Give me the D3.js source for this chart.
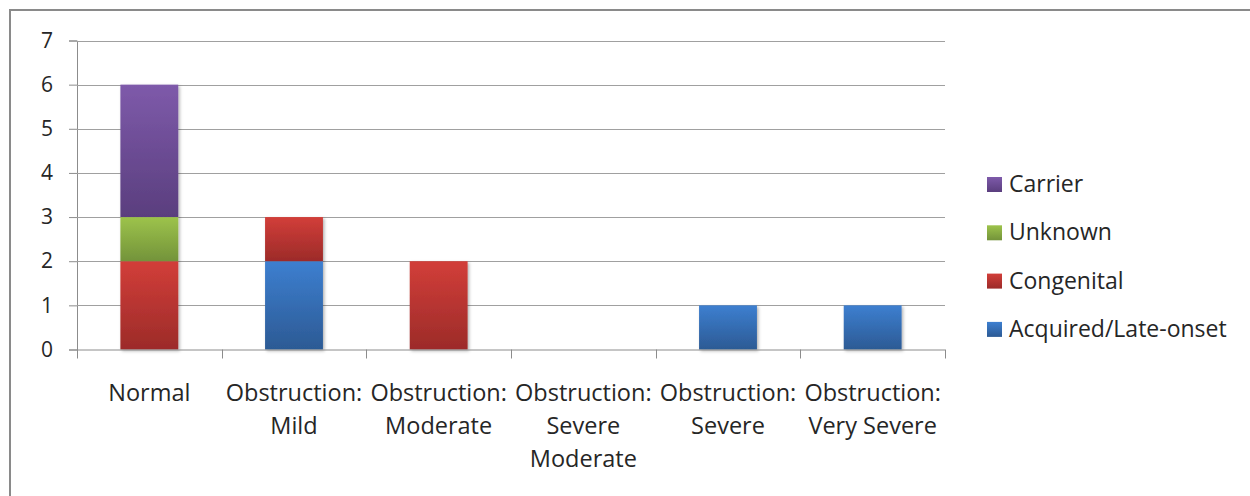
<!DOCTYPE html>
<html>
<head>
<meta charset="utf-8">
<script src="https://cdn.jsdelivr.net/npm/d3@7"></script>
<style>
  html, body { margin: 0; padding: 0; background: #fff; }
  svg { display: block; }
  text { font-family: "Open Sans", Lato, sans-serif; fill: #262626; }
</style>
</head>
<body>
<svg id="chart" width="1250" height="496"></svg>
<script>
// Categories along the x axis and their wrapped label lines
const categories = ["Normal", "Obstruction: Mild", "Obstruction: Moderate",
  "Obstruction: Severe Moderate", "Obstruction: Severe", "Obstruction: Very Severe"];
const categoryLines = [
  ["Normal"],
  ["Obstruction:", "Mild"],
  ["Obstruction:", "Moderate"],
  ["Obstruction:", "Severe", "Moderate"],
  ["Obstruction:", "Severe"],
  ["Obstruction:", "Very Severe"]
];

// Stacked series, bottom to top
const seriesNames = ["Acquired/Late-onset", "Congenital", "Unknown", "Carrier"];
const acquired   = [0, 2, 0, 0, 1, 1];
const congenital = [2, 1, 2, 0, 0, 0];
const unknown    = [1, 0, 0, 0, 0, 0];
const carrier    = [3, 0, 0, 0, 0, 0];
const yTicks = [0, 1, 2, 3, 4, 5, 6, 7];

const palette = {
  "Acquired/Late-onset": ["#3d7fd0", "#2c5a94"],
  "Congenital": ["#d23e39", "#9c2b29"],
  "Unknown": ["#9dc34b", "#73933a"],
  "Carrier": ["#7e5aaa", "#5a3e7e"]
};

const rows = categories.map((c, i) => ({
  category: c,
  "Acquired/Late-onset": acquired[i],
  "Congenital": congenital[i],
  "Unknown": unknown[i],
  "Carrier": carrier[i]
}));

const svg = d3.select("#chart");
const margin = { left: 77, right: 945, top: 40.5, bottom: 349.5 };
const labelFont = 23.5;

// Outer chart frame
svg.append("rect")
  .attr("x", 10).attr("y", 10)
  .attr("width", 1260).attr("height", 520)
  .attr("fill", "#fff")
  .attr("stroke", "#8a8a8a")
  .attr("stroke-width", 2);

const defs = svg.append("defs");
seriesNames.forEach((s, i) => {
  const g = defs.append("linearGradient")
    .attr("id", "grad" + i)
    .attr("x1", 0).attr("y1", 0).attr("x2", 0).attr("y2", 1);
  g.append("stop").attr("offset", "0%").attr("stop-color", palette[s][0]);
  g.append("stop").attr("offset", "100%").attr("stop-color", palette[s][1]);
});
const shadow = defs.append("filter").attr("id", "shadow")
  .attr("x", "-20%").attr("y", "-20%").attr("width", "140%").attr("height", "140%");
shadow.append("feDropShadow")
  .attr("dx", 1.5).attr("dy", 1.5).attr("stdDeviation", 1.5)
  .attr("flood-color", "#000").attr("flood-opacity", 0.3);

const xOuter = d3.scaleBand().domain(categories).range([margin.left, margin.right]);
const y = d3.scaleLinear().domain([0, 7]).range([margin.bottom, margin.top]);

// Value axis with outward ticks
const yAxis = d3.axisLeft(y).tickValues(yTicks).tickSize(8).tickPadding(16).tickFormat(d3.format("d"));
const yg = svg.append("g").attr("transform", `translate(${margin.left},0)`).call(yAxis);
yg.select(".domain").attr("stroke", "#8c8c8c");
yg.selectAll(".tick line").attr("stroke", "#8c8c8c");
yg.selectAll(".tick text").attr("font-size", 21).attr("fill", "#262626")
  .style("font-family", "'Open Sans', Lato, sans-serif");

// Horizontal gridlines
svg.append("g").selectAll("line").data(yTicks.filter(d => d > 0)).join("line")
  .attr("x1", margin.left).attr("x2", margin.right)
  .attr("y1", d => Math.round(y(d)) + 0.5).attr("y2", d => Math.round(y(d)) + 0.5)
  .attr("stroke", "#a0a0a0").attr("stroke-width", 1.2);

// Stacked bars
const stacked = d3.stack().keys(seriesNames)(rows);
const barW = xOuter.bandwidth() / 2.5;
svg.append("g").attr("filter", "url(#shadow)")
  .selectAll("g").data(stacked).join("g")
  .attr("fill", (d, i) => `url(#grad${i})`)
  .selectAll("rect").data(d => d.filter(p => p[1] > p[0])).join("rect")
  .attr("x", d => xOuter(d.data.category) + xOuter.bandwidth() / 2 - barW / 2)
  .attr("width", barW)
  .attr("y", d => y(d[1]))
  .attr("height", d => y(d[0]) - y(d[1]));

// Category axis with ticks between categories
const xg = svg.append("g").attr("transform", `translate(0,${margin.bottom})`);
xg.append("line").attr("x1", margin.left).attr("x2", margin.right)
  .attr("y1", 0.5).attr("y2", 0.5).attr("stroke", "#8c8c8c");
const bounds = categories.map(c => xOuter(c)).concat([margin.right]);
xg.selectAll("line.tk").data(bounds).join("line").attr("class", "tk")
  .attr("x1", d => Math.round(d) + 0.5).attr("x2", d => Math.round(d) + 0.5)
  .attr("y1", 0).attr("y2", 9).attr("stroke", "#8c8c8c");

const labels = xg.selectAll("text.cat").data(categories).join("text").attr("class", "cat")
  .attr("text-anchor", "middle")
  .attr("font-size", labelFont);
labels.each(function (c, i) {
  const t = d3.select(this);
  categoryLines[i].forEach((line, j) => {
    t.append("tspan")
      .attr("x", xOuter(c) + xOuter.bandwidth() / 2)
      .attr("y", 51.5 + j * 33)
      .text(line);
  });
});

// Legend, listed top to bottom in reverse stacking order
const legendItems = seriesNames.slice().reverse();
const lg = svg.append("g").selectAll("g").data(legendItems).join("g")
  .attr("transform", (d, i) => `translate(987,${184 + i * 48.3})`);
lg.append("rect").attr("x", 0).attr("y", -7).attr("width", 15).attr("height", 15)
  .attr("fill", d => `url(#grad${seriesNames.indexOf(d)})`);
lg.append("text").attr("x", 22).attr("y", 8).attr("font-size", 23).text(d => d);
</script>
</body>
</html>
